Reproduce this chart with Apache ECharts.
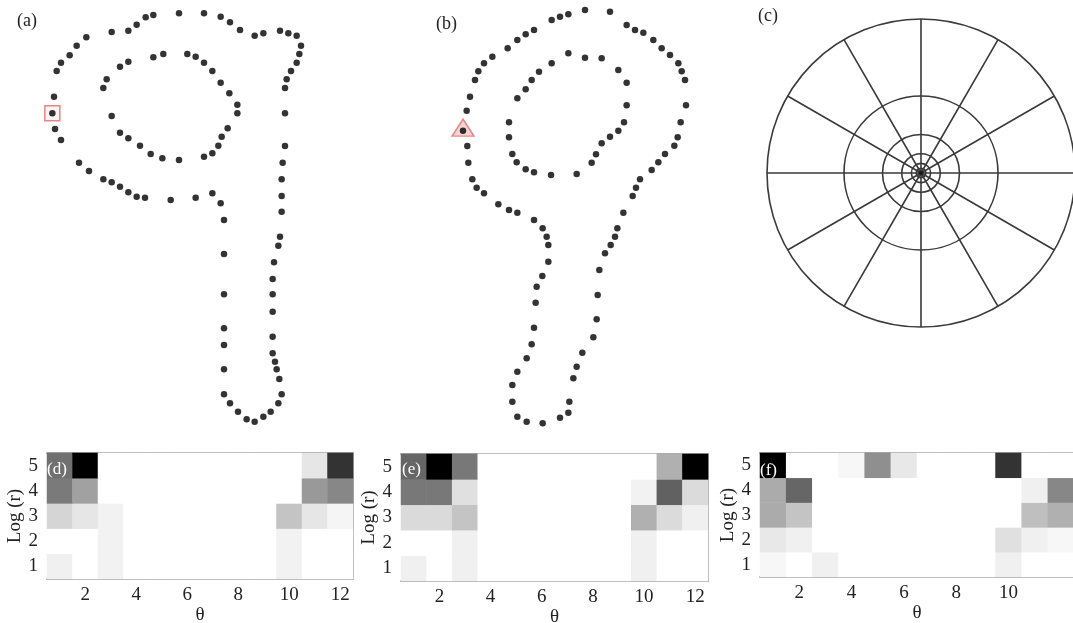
<!DOCTYPE html>
<html>
<head>
	<meta charset="utf-8">
	<title>Shape context</title>
	<script src="https://cdn.jsdelivr.net/npm/echarts@6/dist/echarts.min.js"></script>
	<style>
		html,body{margin:0;padding:0;background:#fff}
		#main{width:1073px;height:623px}
	</style>
</head>
<body>
<div id="main"></div>
<script>
// contour points of shape (a), shape (b) — units: 1/3 px of the panel
var shapeA = [
	[162,290],[170,213],[183,188],[209,166],[230,137],[259,112],[335,96],[385,92],[410,74],[437,52],
	[460,45],[537,40],[612,40],[662,50],[690,67],[720,90],[764,107],[790,100],[840,92],[865,100],
	[890,107],[903,137],[898,162],[890,188],[873,213],[860,238],[855,264],[855,340],[855,438],[848,488],
	[845,538],[845,588],[845,635],[840,710],[835,737],[822,787],[818,837],[818,883],[818,935],[818,1010],
	[818,1060],[825,1085],[830,1108],[838,1137],[845,1183],[835,1210],[812,1235],[790,1250],[764,1265],[740,1258],
	[714,1235],[690,1210],[672,1183],[672,1108],[672,1035],[672,985],[672,883],[672,762],[672,660],[662,610],
	[637,580],[587,593],[512,600],[435,593],[410,590],[385,577],[360,560],[335,547],[310,538],[267,513],
	[237,488],[183,420],[165,387],[157,340],
	[310,264],[320,238],[360,200],[385,185],[460,172],[490,162],[562,162],[587,170],[612,188],[637,213],
	[662,248],[688,280],[712,314],[712,340],[683,385],[665,410],[655,437],[637,460],[612,470],[537,480],
	[487,475],[452,462],[420,437],[385,415],[360,398],[335,348]
];
var shapeB = [
	[320,332],[330,290],[345,240],[355,214],[372,190],[397,170],[443,145],[472,120],[497,103],[522,90],
	[575,60],[600,50],[625,43],[675,30],[750,35],[800,75],[825,90],[850,98],[880,120],[905,145],
	[930,165],[955,190],[965,214],[975,240],[978,316],[962,367],[953,412],[943,437],[915,462],[895,487],
	[875,510],[840,538],[828,563],[818,588],[790,638],[772,685],[765,710],[752,735],[735,760],[718,810],
	[713,885],[710,958],[700,1012],[667,1058],[650,1100],[640,1135],[628,1205],[625,1238],[600,1253],[548,1270],
	[500,1265],[472,1250],[457,1205],[457,1155],[472,1115],[500,1075],[515,1033],[522,983],[527,908],[530,860],
	[547,828],[565,785],[565,735],[560,710],[548,685],[522,660],[472,638],[447,630],[415,613],[372,580],
	[350,563],[337,538],[325,488],[322,438],[309,392],
	[472,295],[497,268],[515,240],[537,215],[575,190],[625,160],[675,173],[725,175],[775,210],[800,248],
	[800,316],[792,367],[775,392],[750,410],[725,430],[708,463],[695,488],[650,522],[573,525],[522,517],
	[497,508],[470,487],[457,462],[447,412],[447,367]
];
var refPointA = [[157,340]];
var refPointB = [[309,392]];

// log-polar bins
var ringRadii = [0.5, 0.25, 0.125, 0.0625, 0.03125, 0.015625];

// histograms: rows are log(r) = 1..5, columns theta = 1..12
var thetaBins = ['1','2','3','4','5','6','7','8','9','10','11','12'];
var logrBins = ['1','2','3','4','5'];
var histD = [
	[0.06,0,0.05,0,0,0,0,0,0,0.05,0,0],
	[0,0,0.05,0,0,0,0,0,0,0.05,0,0],
	[0.165,0.10,0.05,0,0,0,0,0,0,0.23,0.10,0.04],
	[0.52,0.37,0,0,0,0,0,0,0,0,0.40,0.47],
	[0.56,1.0,0,0,0,0,0,0,0,0,0.10,0.80]
];
var histE = [
	[0.06,0,0.06,0,0,0,0,0,0,0.06,0,0],
	[0,0,0.06,0,0,0,0,0,0,0.06,0,0],
	[0.145,0.145,0.23,0,0,0,0,0,0,0.31,0.14,0.06],
	[0.53,0.53,0.12,0,0,0,0,0,0,0.05,0.62,0.14],
	[0.60,1.0,0.53,0,0,0,0,0,0,0,0.31,1.0]
];
var histF = [
	[0.03,0,0.06,0,0,0,0,0,0,0.06,0,0],
	[0.09,0.06,0,0,0,0,0,0,0,0.12,0.06,0.03],
	[0.33,0.23,0,0,0,0,0,0,0,0,0.25,0.31],
	[0.33,0.60,0,0,0,0,0,0,0,0,0.06,0.47],
	[1.0,0,0,0.03,0.44,0.09,0,0,0,0.80,0,0]
];

var serif = '"Liberation Serif", "DejaVu Serif", serif';
var myChart = echarts.init(document.getElementById('main'));

function toCells(h){
	var out = [];
	for (var r = 0; r < h.length; r++) {
		for (var c = 0; c < h[r].length; c++) out.push([c, r, h[r][c]]);
	}
	return out;
}
function hmX(gi, top, lastHidden){
	return {
		type: 'category', gridIndex: gi, data: thetaBins, position: top ? 'top' : 'bottom',
		axisLine: {show: true, lineStyle: {color: '#aaa', width: 2}},
		axisTick: {show: false},
		axisLabel: top ? {show: false} : {
			interval: function(i){ return i % 2 === 1 && !(lastHidden && i === 11); },
			fontFamily: serif, fontSize: 19, color: '#222', margin: 7
		},
		splitLine: {show: false},
		name: top ? '' : 'θ', nameLocation: 'middle', nameGap: 27,
		nameTextStyle: {fontFamily: serif, fontSize: 19, color: '#222'}
	};
}
function hmY(gi, right){
	return {
		type: 'category', gridIndex: gi, data: logrBins, position: right ? 'right' : 'left',
		axisLine: {show: !!right, lineStyle: {color: '#aaa', width: 2}},
		axisTick: {show: false},
		axisLabel: right ? {show: false} : {interval: 0, fontFamily: serif, fontSize: 19, color: '#222', margin: 9},
		splitLine: {show: false},
		name: right ? '' : 'Log (r)', nameLocation: 'middle', nameGap: 22, nameRotate: 90,
		nameTextStyle: {fontFamily: serif, fontSize: 19, color: '#222'}
	};
}
function dots(xi, data){
	return {type: 'scatter', xAxisIndex: xi, yAxisIndex: xi, data: data, symbolSize: 6.5,
		itemStyle: {color: '#000'}, z: 3, silent: true};
}
function hm(xi, yi, h){
	return {type: 'heatmap', xAxisIndex: xi, yAxisIndex: yi, data: toCells(h), silent: true};
}

var option = {
	animation: false,
	grid: [
		{left: 0, top: 0, width: 360, height: 430, outerBoundsMode: 'none'},
		{left: 360, top: 0, width: 360, height: 430, outerBoundsMode: 'none'},
		{left: 47, top: 453, width: 306, height: 126, outerBoundsMode: 'none'},
		{left: 401, top: 454, width: 307, height: 127, outerBoundsMode: 'none'},
		{left: 760, top: 453, width: 314, height: 124, outerBoundsMode: 'none'}
	],
	xAxis: [
		{type: 'value', gridIndex: 0, min: 0, max: 1080, show: false},
		{type: 'value', gridIndex: 1, min: 0, max: 1080, show: false},
		hmX(2, false), hmX(2, true),
		hmX(3, false), hmX(3, true),
		hmX(4, false, true), hmX(4, true)
	],
	yAxis: [
		{type: 'value', gridIndex: 0, min: 0, max: 1290, inverse: true, show: false},
		{type: 'value', gridIndex: 1, min: 0, max: 1290, inverse: true, show: false},
		hmY(2, false), hmY(2, true),
		hmY(3, false), hmY(3, true),
		hmY(4, false)
	],
	polar: {center: [921, 173], radius: 154},
	angleAxis: {
		type: 'value', min: 0, max: 360, interval: 30, startAngle: 90,
		axisLine: {show: true, lineStyle: {color: '#3a3a3a', width: 1.6}},
		axisTick: {show: false}, axisLabel: {show: false},
		splitLine: {show: true, lineStyle: {color: '#3a3a3a', width: 1.6}}
	},
	radiusAxis: {
		type: 'value', min: 0, max: 1,
		axisLine: {show: false}, axisTick: {show: false}, axisLabel: {show: false},
		splitLine: {show: false}
	},
	visualMap: {
		type: 'continuous', show: false, min: 0, max: 1, seriesIndex: [6, 7, 8],
		inRange: {color: ['#ffffff', '#000000']}
	},
	series: [
		dots(0, shapeA),
		{type: 'scatter', xAxisIndex: 0, yAxisIndex: 0, data: refPointA, symbol: 'rect', symbolSize: 15,
			itemStyle: {color: 'rgba(245,215,215,0.35)', borderColor: '#e06868', borderWidth: 1.5}, z: 2, silent: true},
		dots(1, shapeB),
		{type: 'scatter', xAxisIndex: 1, yAxisIndex: 1, data: refPointB, symbol: 'triangle', symbolSize: [22, 17],
			symbolOffset: [0, -3],
			itemStyle: {color: '#f6caca', borderColor: '#e07272', borderWidth: 1.5}, z: 2, silent: true},
		{
			type: 'custom', coordinateSystem: 'polar', silent: true,
			data: ringRadii.map(function(r){ return [r, 0]; }),
			renderItem: function(params, api){
				var c = api.coord([0, 0]);
				var p = api.coord([api.value(0), 0]);
				return {
					type: 'circle',
					shape: {cx: c[0], cy: c[1], r: Math.sqrt((p[0]-c[0])*(p[0]-c[0]) + (p[1]-c[1])*(p[1]-c[1]))},
					style: {fill: 'none', stroke: '#3a3a3a', lineWidth: 1.6}
				};
			}
		},
		{type: 'scatter', coordinateSystem: 'polar', data: [[0, 0]], symbolSize: 4, itemStyle: {color: '#111'}, silent: true},
		hm(2, 2, histD),
		hm(4, 4, histE),
		hm(6, 6, histF)
	],
	graphic: [
		{type: 'text', left: 17, top: 12, style: {text: '(a)', fontFamily: serif, fontSize: 18, fill: '#222'}},
		{type: 'text', left: 436, top: 15, style: {text: '(b)', fontFamily: serif, fontSize: 18, fill: '#222'}},
		{type: 'text', left: 758, top: 7, style: {text: '(c)', fontFamily: serif, fontSize: 18, fill: '#222'}},
		{type: 'text', left: 47, top: 461, z: 10, style: {text: '(d)', fontFamily: serif, fontSize: 17, fill: '#fff'}},
		{type: 'text', left: 402, top: 461, z: 10, style: {text: '(e)', fontFamily: serif, fontSize: 17, fill: '#fff'}},
		{type: 'text', left: 760, top: 462, z: 10, style: {text: '(f)', fontFamily: serif, fontSize: 17, fill: '#fff'}}
	]
};
myChart.setOption(option);
</script>
</body>
</html>
